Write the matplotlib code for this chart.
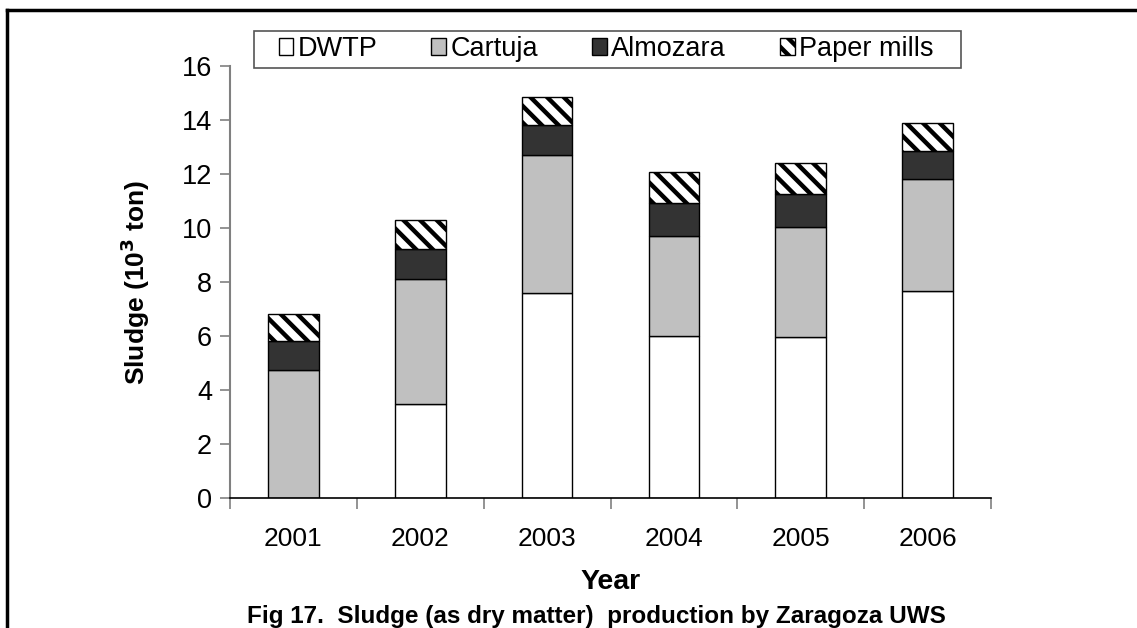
import matplotlib
matplotlib.use("Agg")
import matplotlib.pyplot as plt
from matplotlib.lines import Line2D
from matplotlib.patches import Rectangle
import numpy as np

years = ["2001", "2002", "2003", "2004", "2005", "2006"]
dwtp = [0.0, 3.48, 7.60, 6.00, 5.96, 7.67]
cartuja = [4.74, 4.63, 5.10, 3.70, 4.07, 4.13]
almozara = [1.09, 1.11, 1.11, 1.21, 1.22, 1.06]
paper = [0.98, 1.08, 1.03, 1.18, 1.15, 1.02]
series_names = ["DWTP", "Cartuja", "Almozara", "Paper mills"]

plt.rcParams['font.family'] = ['Liberation Sans', 'DejaVu Sans']
plt.rcParams['hatch.linewidth'] = 3.2
plt.rcParams['hatch.color'] = 'black'

W, H = 1137, 628
fig = plt.figure(figsize=(W/100, H/100), dpi=100)
ax = fig.add_axes([230/W, 1-498/H, (991-230)/W, (498-66)/H])

x = np.arange(len(years))
w = 0.40
bottom = np.zeros(len(years))
styles = [
    dict(facecolor='white', hatch=None),
    dict(facecolor='#C0C0C0', hatch=None),
    dict(facecolor='#333333', hatch=None),
    dict(facecolor='white', hatch='\\\\'),
]
handles = []
for vals, name, st in zip([dwtp, cartuja, almozara, paper], series_names, styles):
    b = ax.bar(x, vals, w, bottom=bottom, facecolor=st['facecolor'], edgecolor='black',
               linewidth=1.0, hatch=st['hatch'], label=name, zorder=2)
    bottom += np.array(vals)
    handles.append(b)

ax.set_xlim(-0.5, len(years) - 0.5)
ax.set_ylim(0, 16)
ax.set_yticks(np.arange(0, 17, 2))
ax.set_xticks(np.arange(-0.5, len(years), 1.0), minor=False)
ax.set_xticklabels([])
ax.set_xticks(x, minor=True)
ax.set_xticklabels(years, minor=True)
ax.tick_params(axis='x', which='minor', length=0, labelsize=19, pad=21)
ax.tick_params(axis='x', which='major', length=8, width=1.2, direction='out', color='#808080')
ax.tick_params(axis='y', length=7, width=1.2, direction='out', labelsize=19.5, color='#808080', pad=6)
for s in ['top', 'right']:
    ax.spines[s].set_visible(False)
ax.spines['left'].set_color('#808080')
ax.spines['left'].set_linewidth(1.5)
ax.spines['bottom'].set_color('black')
ax.spines['bottom'].set_linewidth(1.2)

ax.set_xlabel("Year", fontsize=20.5, fontweight='bold', labelpad=13)
ax.set_ylabel(r"Sludge (10$^{\mathbf{3}}$ ton)", fontsize=19, fontweight='bold', labelpad=21)

# legend box
fig.add_artist(Rectangle((254/W, 1-68/H), (961-254)/W, (68-31)/H, transform=fig.transFigure,
                         facecolor='white', edgecolor='#555555', linewidth=1.2, zorder=5))
leg = fig.legend(handles=handles, labels=series_names, loc='center',
                 bbox_to_anchor=(606/W, 1-49/H), ncol=4, fontsize=19.5,
                 frameon=False, handlelength=0.55, handleheight=0.55,
                 handletextpad=0.15, columnspacing=2.0,
                 borderpad=0.0, borderaxespad=0)
leg.set_zorder(6)

fig.text(596/W, 1-617/H, "Fig 17.  Sludge (as dry matter)  production by Zaragoza UWS",
         ha='center', va='center', fontsize=17.5, fontweight='bold')

# page frame lines
fig.add_artist(Line2D([7/W, 1], [1-10/H, 1-10/H], transform=fig.transFigure,
                      color='black', linewidth=2.5))
fig.add_artist(Line2D([7/W, 7/W], [0, 1-10/H], transform=fig.transFigure,
                      color='black', linewidth=2.5))

fig.savefig("out.png", dpi=100)
